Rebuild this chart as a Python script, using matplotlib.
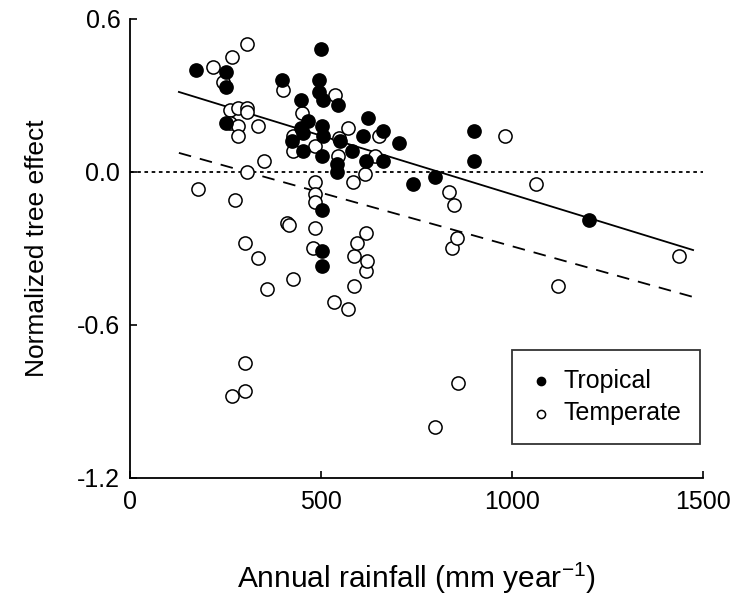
import matplotlib
matplotlib.use("Agg")
import matplotlib.pyplot as plt
from matplotlib.ticker import FuncFormatter

plt.rcParams['font.family'] = ['Liberation Sans', 'DejaVu Sans']
plt.rcParams['mathtext.default'] = 'regular'

# tropical sites (filled)
trop_x = [172, 251, 251, 250, 397, 423, 447, 447, 452, 452, 467, 496, 496, 506,
          500, 502, 506, 502, 502, 502, 502, 541, 541, 545, 550, 580, 611, 619,
          622, 661, 661, 704, 740, 798, 901, 901, 1202]
trop_y = [0.40, 0.39, 0.33, 0.19, 0.36, 0.12, 0.28, 0.17, 0.15, 0.08, 0.20, 0.36,
          0.31, 0.28, 0.48, 0.18, 0.14, 0.06, -0.15, -0.31, -0.37, 0.03, 0.00,
          0.26, 0.12, 0.08, 0.14, 0.04, 0.21, 0.16, 0.04, 0.11, -0.05, -0.02,
          0.16, 0.04, -0.19]

# temperate sites (open)
temp_x = [177, 218, 243, 262, 262, 266, 266, 275, 283, 283, 283, 301, 301, 301,
          305, 305, 305, 305, 334, 336, 351, 358, 401, 410, 417, 426, 428, 428,
          449, 479, 484, 484, 484, 484, 484, 535, 537, 545, 548, 570, 570, 585,
          587, 587, 595, 615, 617, 617, 620, 641, 653, 798, 836, 842, 849, 855,
          859, 982, 1062, 1121, 1438]
temp_y = [-0.07, 0.41, 0.35, 0.24, 0.19, 0.45, -0.88, -0.11, 0.25, 0.18, 0.14,
          -0.28, -0.75, -0.86, 0.50, 0.25, 0.235, 0.00, -0.34, 0.18, 0.04, -0.46,
          0.32, -0.20, -0.21, 0.14, 0.08, -0.42, 0.23, -0.30, 0.10, -0.04, -0.09,
          -0.12, -0.22, -0.51, 0.30, 0.06, 0.13, 0.17, -0.54, -0.04, -0.33, -0.45,
          -0.28, -0.01, -0.24, -0.39, -0.35, 0.06, 0.14, -1.00, -0.08, -0.30,
          -0.13, -0.26, -0.83, 0.14, -0.05, -0.45, -0.33]

# fitted lines (end points)
fit_x = [128, 1474]
trop_fit = [0.312, -0.308]
temp_fit = [0.073, -0.492]

fig = plt.figure(figsize=(7.34, 5.97), dpi=100)
ax = fig.add_axes([130/734, 1-477.5/597, 573/734, 459/597])

ax.axhline(0, color='black', lw=1.3, ls=(0, (2, 2)), zorder=1)
ax.plot(fit_x, trop_fit, color='black', lw=1.3, zorder=2)
ax.plot(fit_x, temp_fit, color='black', lw=1.3, ls=(0, (7, 5)), zorder=2)

ax.scatter(temp_x, temp_y, s=90, facecolor='white', edgecolor='black',
           linewidth=1.1, zorder=3, label='Temperate')
ax.scatter(trop_x, trop_y, s=90, facecolor='black', edgecolor='black',
           linewidth=1.1, zorder=4, label='Tropical')

ax.set_xlim(0, 1500)
ax.set_ylim(-1.2, 0.6)
ax.set_xticks([0, 500, 1000, 1500])
ax.set_yticks([-1.2, -0.6, 0.0, 0.6])
ax.yaxis.set_major_formatter(FuncFormatter(lambda v, p: f"{v:.1f}".replace('\u2212', '-')))
ax.tick_params(direction='in', length=5, width=1.2, labelsize=18, pad=7)
ax.tick_params(axis='x', pad=9)
ax.spines['top'].set_visible(False)
ax.spines['right'].set_visible(False)
for s in ['left', 'bottom']:
    ax.spines[s].set_linewidth(1.3)

ax.set_xlabel('Annual rainfall (mm year$^{\u22121}$)', fontsize=21.5, labelpad=34)
ax.set_ylabel('Normalized tree effect', fontsize=19, labelpad=20)

h, l = ax.get_legend_handles_labels()
leg = ax.legend(h[::-1], l[::-1], loc='upper left', bbox_to_anchor=(0.667, 0.278),
                fontsize=18, frameon=True, fancybox=False, markerscale=0.62,
                handletextpad=0.5, borderpad=0.75, labelspacing=0.35,
                handlelength=0.8, borderaxespad=0)
leg.get_frame().set_edgecolor('black')
leg.get_frame().set_linewidth(1.3)

fig.savefig('out.png', dpi=100)
